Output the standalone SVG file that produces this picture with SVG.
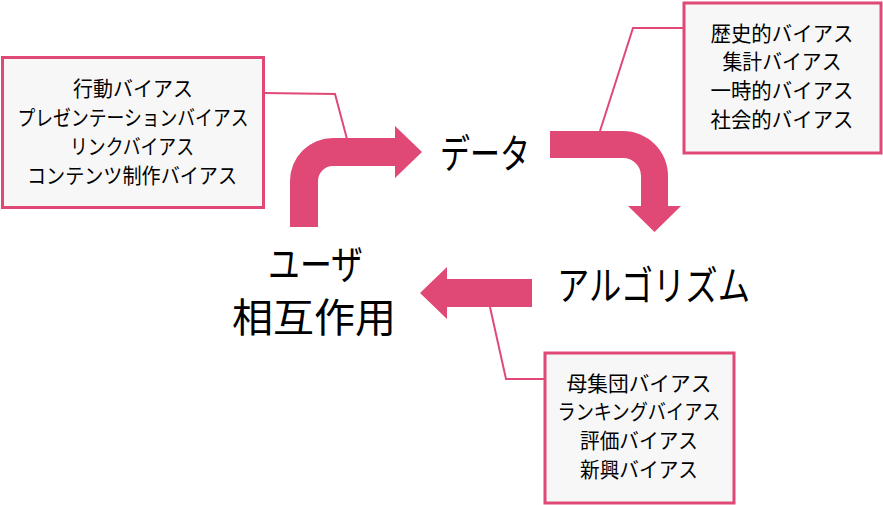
<svg xmlns="http://www.w3.org/2000/svg" width="883" height="505" viewBox="0 0 883 505">
<style>
  .box { fill: #f7f7f7; stroke: #E04876; stroke-width: 3; }
  .lead { fill: none; stroke: #E04876; stroke-width: 2; }
  .arrow { fill: #E04876; }
  text { font-family: "Noto Sans CJK JP", "Noto Sans", sans-serif; fill: #000; text-anchor: middle; }
  .small { font-size: 21px; }
  .big { font-size: 40px; }
</style>
<rect width="883" height="505" fill="#ffffff"/>
<g id="connectors">
  <path class="arrow" d="M290,227 L290,181 A43,43 0 0 1 333,138 L395,138 L395,126 L422,152 L395,178 L395,166 L333,166 A15,15 0 0 0 318,181 L318,227 Z"/>
  <path class="arrow" d="M550,131 L623,131 A45,45 0 0 1 668,176 L668,206 L681,206 L654.5,232 L628,206 L641,206 L641,176 A18,18 0 0 0 623,158 L550,158 Z"/>
  <path class="arrow" d="M532,279 L447,279 L447,267 L420,293 L447,319 L447,307 L532,307 Z"/>
  <polyline class="lead" points="264,93 335,94 347,139"/>
  <polyline class="lead" points="683,28 633,28 600,131"/>
  <polyline class="lead" points="490,307 506,379 545,379"/>
</g>
<g id="box-user-bias">
  <rect class="box" x="2.5" y="57.5" width="261" height="150"/>
  <text class="small" x="133" y="95.5" textLength="120" lengthAdjust="spacingAndGlyphs">行動バイアス</text>
  <text class="small" x="133" y="124.5" textLength="231" lengthAdjust="spacingAndGlyphs">プレゼンテーションバイアス</text>
  <text class="small" x="132" y="153.5" textLength="124" lengthAdjust="spacingAndGlyphs">リンクバイアス</text>
  <text class="small" x="132" y="182.5" textLength="210" lengthAdjust="spacingAndGlyphs">コンテンツ制作バイアス</text>
</g>
<g id="box-data-bias">
  <rect class="box" x="684" y="3" width="197" height="150"/>
  <text class="small" x="782" y="40.5" textLength="143" lengthAdjust="spacingAndGlyphs">歴史的バイアス</text>
  <text class="small" x="782" y="69" textLength="119" lengthAdjust="spacingAndGlyphs">集計バイアス</text>
  <text class="small" x="782" y="97.5" textLength="143" lengthAdjust="spacingAndGlyphs">一時的バイアス</text>
  <text class="small" x="782" y="126.5" textLength="143" lengthAdjust="spacingAndGlyphs">社会的バイアス</text>
</g>
<g id="box-algo-bias">
  <rect class="box" x="545" y="353" width="189" height="150"/>
  <text class="small" x="639" y="390.5" textLength="145" lengthAdjust="spacingAndGlyphs">母集団バイアス</text>
  <text class="small" x="639" y="419" textLength="163" lengthAdjust="spacingAndGlyphs">ランキングバイアス</text>
  <text class="small" x="639" y="447.5" textLength="118" lengthAdjust="spacingAndGlyphs">評価バイアス</text>
  <text class="small" x="639" y="476.5" textLength="118" lengthAdjust="spacingAndGlyphs">新興バイアス</text>
</g>
<g id="node-data">
  <text class="big" x="485" y="168" textLength="90" lengthAdjust="spacingAndGlyphs">データ</text>
</g>
<g id="node-algorithm">
  <text class="big" x="653.5" y="300" textLength="193" lengthAdjust="spacingAndGlyphs">アルゴリズム</text>
</g>
<g id="node-user">
  <text class="big" x="315.5" y="279" textLength="95" lengthAdjust="spacingAndGlyphs">ユーザ</text>
  <text class="big" x="314" y="332" textLength="164" lengthAdjust="spacingAndGlyphs">相互作用</text>
</g>
</svg>
